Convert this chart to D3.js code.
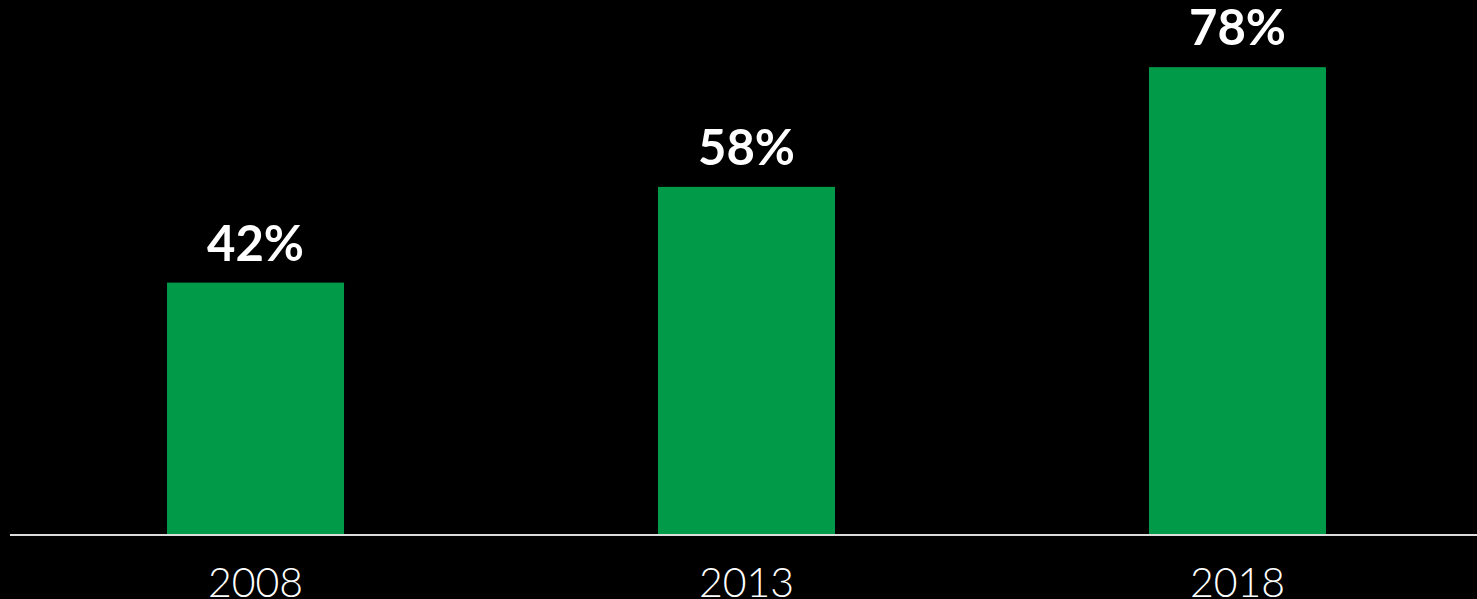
<!DOCTYPE html>
<html><head><meta charset="utf-8">
<script src="https://cdn.jsdelivr.net/npm/d3@7"></script>
<style>html,body{margin:0;padding:0;background:#000;overflow:hidden}</style>
</head><body>
<svg id="c" width="1477" height="599"></svg>
<script>
const years = ["2008", "2013", "2018"];
const values = [42, 58, 78];

const svg = d3.select("#c");
const W = 1477, H = 599;
svg.append("rect").attr("width", W).attr("height", H).attr("fill", "#000");

const x = d3.scaleBand().domain(years).range([10, 1483]).paddingInner(0.6395).paddingOuter(0.3198);
const y = d3.scaleLinear().domain([0, 100]).range([534, 534 - 598.5]);

svg.selectAll("rect.bar").data(values).join("rect")
  .attr("class", "bar")
  .attr("x", (d, i) => x(years[i]))
  .attr("width", x.bandwidth())
  .attr("y", d => y(d))
  .attr("height", d => y(0) - y(d))
  .attr("fill", "#009a49");

svg.selectAll("text.val").data(values).join("text")
  .attr("class", "val")
  .attr("x", (d, i) => x(years[i]) + x.bandwidth() / 2)
  .attr("y", d => y(d) - 22)
  .attr("text-anchor", "middle")
  .attr("fill", "#fff")
  .attr("font-family", "Lato, 'Open Sans', sans-serif")
  .attr("font-weight", 700)
  .attr("font-size", 49)
  .text(d => d + "%");

const axis = d3.axisBottom(x).tickSize(0).tickPadding(0);
const g = svg.append("g").attr("transform", "translate(0,535)").call(axis);
g.select(".domain").remove();
g.append("line").attr("x1", 10).attr("x2", W).attr("y1", 0).attr("y2", 0)
  .attr("stroke", "#dcdcdc").attr("stroke-width", 2);
g.selectAll(".tick text")
  .attr("y", 62).attr("dy", null)
  .attr("fill", "#fff")
  .attr("font-family", "Lato, 'Open Sans', sans-serif")
  .attr("font-weight", 300)
  .attr("font-size", 41);
</script>
</body></html>
